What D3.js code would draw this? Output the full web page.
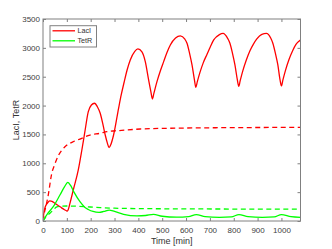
<!DOCTYPE html>
<html>
<head>
<meta charset="utf-8">
<script src="https://cdn.jsdelivr.net/npm/d3@7"></script>
<style>
  body { margin: 0; background: #fff; }
  text { font-family: "Liberation Sans", Arial, sans-serif; }
</style>
</head>
<body>
<div id="chart"></div>
<script>
// LacI (oscillating, solid red)
var lacITime = [0, 2, 5, 10, 15, 22, 29, 38, 50, 65, 78, 90, 98, 102, 106, 113, 127, 148, 163, 175, 190, 203, 216, 228, 240, 252, 261, 270, 277, 285, 296, 317, 328, 340, 353, 366, 385, 398, 415, 429, 443, 452, 459, 465, 478, 492, 506, 520, 534, 556, 576, 595, 604, 615, 625, 635, 641, 647, 658, 672, 688, 702, 716, 740, 755, 775, 784, 795, 805, 815, 821, 827, 838, 852, 868, 882, 896, 918, 937, 955, 964, 975, 985, 994, 1000, 1006, 1017, 1031, 1047, 1061, 1075, 1080];
var lacIValues = [0, 90, 170, 250, 290, 330, 347, 340, 306, 265, 228, 195, 178, 172, 200, 306, 537, 884, 1230, 1530, 1894, 2010, 2040, 1980, 1866, 1660, 1490, 1350, 1270, 1330, 1490, 1953, 2184, 2400, 2620, 2790, 2940, 2981, 2930, 2761, 2444, 2250, 2114, 2210, 2414, 2600, 2761, 2920, 3050, 3170, 3206, 3150, 3080, 2900, 2704, 2450, 2317, 2410, 2570, 2740, 2890, 3020, 3137, 3230, 3250, 3160, 3080, 2900, 2704, 2450, 2334, 2430, 2600, 2780, 2950, 3060, 3150, 3235, 3250, 3170, 3080, 2900, 2704, 2450, 2340, 2440, 2610, 2790, 2950, 3060, 3120, 3137];

// TetR (solid green)
var tetRTime = [0, 20, 43, 71, 90, 104, 115, 130, 155, 175, 190, 210, 235, 255, 278, 300, 338, 394, 430, 463, 500, 560, 610, 643, 680, 740, 790, 822, 860, 920, 970, 1000, 1040, 1080];
var tetRValues = [0, 130, 248, 450, 590, 670, 620, 500, 335, 240, 200, 165, 150, 165, 190, 165, 116, 88, 95, 116, 82, 66, 75, 112, 75, 62, 70, 112, 75, 62, 70, 112, 75, 64];

// steady-state references (dashed)
var lacIRefTime = [0, 4, 15, 22, 36, 50, 64, 78, 92, 113, 127, 155, 197, 240, 268, 330, 408, 520, 700, 900, 1080];
var lacIRefValues = [0, 104, 306, 450, 810, 990, 1130, 1220, 1288, 1346, 1374, 1420, 1490, 1520, 1548, 1570, 1594, 1606, 1615, 1620, 1622];
var tetRRefTime = [0, 10, 29, 45, 58, 80, 100, 150, 240, 300, 400, 600, 800, 1080];
var tetRRefValues = [0, 60, 133, 200, 245, 258, 260, 255, 231, 222, 215, 210, 207, 205];

var xTicks = [0, 100, 200, 300, 400, 500, 600, 700, 800, 900, 1000];
var yTicks = [0, 500, 1000, 1500, 2000, 2500, 3000, 3500];
var legendNames = ["LacI", "TetR"];
var legendColors = ["#ff0000", "#00ff00"];

var svgWidth = 332;
var svgHeight = 249;
var margin = { top: 19, right: 31.5, bottom: 28, left: 43 };
var width = svgWidth - margin.left - margin.right;
var height = svgHeight - margin.top - margin.bottom;

var svg = d3.select("#chart")
  .append("svg")
  .attr("width", svgWidth)
  .attr("height", svgHeight);

var chartGroup = svg.append("g")
  .attr("transform", `translate(${margin.left}, ${margin.top})`);

var xScale = d3.scaleLinear().domain([0, 1080]).range([0, width]);
var yScale = d3.scaleLinear().domain([0, 3500]).range([height, 0]);

chartGroup.append("clipPath")
  .attr("id", "plot-clip")
  .append("rect")
  .attr("width", width)
  .attr("height", height);

function zipSeries(times, values) {
  return times.map((t, i) => ({ t: t, v: values[i] }));
}

var line = d3.line()
  .x(d => xScale(d.t))
  .y(d => yScale(d.v))
  .curve(d3.curveMonotoneX);

var plotGroup = chartGroup.append("g").attr("clip-path", "url(#plot-clip)");

var series = [
  { data: zipSeries(lacITime, lacIValues), color: "#ff0000", dash: null },
  { data: zipSeries(tetRTime, tetRValues), color: "#00ff00", dash: null },
  { data: zipSeries(lacIRefTime, lacIRefValues), color: "#ff0000", dash: "5,3.5" },
  { data: zipSeries(tetRRefTime, tetRRefValues), color: "#00ff00", dash: "5,3.5" }
];

series.forEach(s => {
  plotGroup.append("path")
    .datum(s.data)
    .attr("d", line)
    .attr("fill", "none")
    .attr("stroke", s.color)
    .attr("stroke-width", 1.3)
    .attr("stroke-dasharray", s.dash);
});

// axes, MATLAB-like: inward ticks on all four sides
function styleAxis(g) {
  g.select(".domain").remove();
  g.selectAll(".tick line").attr("stroke", "#808080");
  g.selectAll(".tick text")
    .attr("fill", "#404040")
    .attr("font-size", "8px");
}

chartGroup.append("g")
  .attr("transform", `translate(0, ${height})`)
  .call(d3.axisBottom(xScale).tickValues(xTicks).tickSize(-3).tickPadding(6).tickFormat(d3.format("d")))
  .call(styleAxis);

chartGroup.append("g")
  .call(d3.axisTop(xScale).tickValues(xTicks).tickSize(-3).tickFormat(""))
  .call(styleAxis);

chartGroup.append("g")
  .call(d3.axisLeft(yScale).tickValues(yTicks).tickSize(-3).tickPadding(3).tickFormat(d3.format("d")))
  .call(styleAxis);

chartGroup.append("g")
  .attr("transform", `translate(${width}, 0)`)
  .call(d3.axisRight(yScale).tickValues(yTicks).tickSize(-3).tickFormat(""))
  .call(styleAxis);

chartGroup.append("rect")
  .attr("x", 0)
  .attr("y", 0)
  .attr("width", width)
  .attr("height", height)
  .attr("fill", "none")
  .attr("stroke", "#808080")
  .attr("stroke-width", 1);

// axis labels
svg.append("text")
  .attr("x", margin.left + width / 2)
  .attr("y", 244)
  .attr("text-anchor", "middle")
  .attr("font-size", "9px")
  .attr("fill", "#333")
  .text("Time [min]");

svg.append("text")
  .attr("transform", `translate(19, ${margin.top + height / 2}) rotate(-90)`)
  .attr("text-anchor", "middle")
  .attr("font-size", "9px")
  .attr("fill", "#333")
  .text("LacI, TetR");

// legend
var legend = svg.append("g");
legend.append("rect")
  .attr("x", 50)
  .attr("y", 25.7)
  .attr("width", 46.5)
  .attr("height", 21.3)
  .attr("fill", "#fff")
  .attr("stroke", "#808080")
  .attr("stroke-width", 1);

legendNames.forEach((name, i) => {
  var ly = 30.8 + i * 10;
  legend.append("line")
    .attr("x1", 52.5)
    .attr("x2", 75)
    .attr("y1", ly)
    .attr("y2", ly)
    .attr("stroke", legendColors[i])
    .attr("stroke-width", 1.3);
  legend.append("text")
    .attr("x", 77.5)
    .attr("y", ly)
    .attr("dy", "0.35em")
    .attr("font-size", "7.2px")
    .attr("fill", "#333")
    .text(name);
});
</script>
</body>
</html>
